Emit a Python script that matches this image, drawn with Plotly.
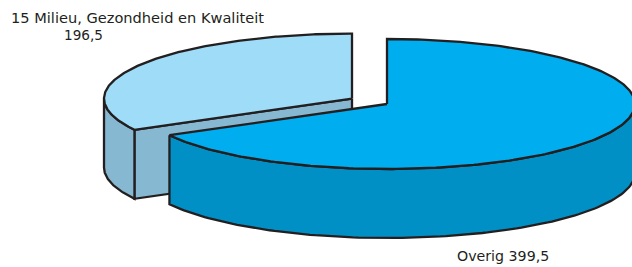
import numpy as np
import plotly.graph_objects as go

categories = ["15 Milieu, Gezondheid en Kwaliteit", "Overig"]
values = [196.5, 399.5]
value_labels = ["196,5", "399,5"]

W, H = 632, 267
CX, CY = 387, 104      # centre of the pie (pixels)
RX, RY = 248, 65       # ellipse radii
DEPTH = 69             # thickness
EXPLODE = [0.164, 0.0]  # explode fraction per slice
TOP_COL = ["#9edcf7", "#00adef"]
SIDE_COL = ["#86b8d2", "#0090c6"]
EDGE = "#231f20"

total = sum(values)
frac = [v / total for v in values]
# Overig starts at 12 o'clock and runs clockwise; the first slice fills the rest
ov_end = 90.0 - 360.0 * frac[1]
spans = {
    0: (90.0, ov_end + 360.0),
    1: (ov_end + 360.0, 450.0),
}


def pt(cx, cy, a, dz=0.0):
    r = np.radians(a)
    return cx + RX * np.cos(r), cy - RY * np.sin(r) + dz


fig = go.Figure()


def poly(xs, ys, fill):
    fig.add_trace(go.Scatter(x=list(xs) + [xs[0]], y=list(ys) + [ys[0]], mode="lines",
                             fill="toself", fillcolor=fill,
                             line=dict(color=EDGE, width=2.3), hoverinfo="skip",
                             showlegend=False))


def slice_center(i):
    a0, a1 = spans[i]
    mid = np.radians((a0 + a1) / 2)
    return CX + EXPLODE[i] * RX * np.cos(mid), CY - EXPLODE[i] * RY * np.sin(mid)


def draw_slice(i):
    a0, a1 = spans[i]
    cx, cy = slice_center(i)
    if i == 0:
        x1, y1 = pt(cx, cy, a1)
        poly([cx, x1, x1, cx], [cy, y1, y1 + DEPTH, cy + DEPTH], SIDE_COL[i])
    lo = max(a0, 180.0)
    hi = min(a1, 360.0)
    if hi > lo:
        ang = np.linspace(lo, hi, 120)
        xs, ys = pt(cx, cy, ang)
        xb, yb = xs[::-1], ys[::-1] + DEPTH
        poly(np.concatenate([xs, xb]), np.concatenate([ys, yb]), SIDE_COL[i])
    ang = np.linspace(a0, a1, 240)
    xs, ys = pt(cx, cy, ang)
    poly(np.concatenate([[cx], xs]), np.concatenate([[cy], ys]), TOP_COL[i])


draw_slice(0)
draw_slice(1)

FAM = "DejaVu Sans, Verdana, sans-serif"
fig.add_annotation(x=9, y=17, text=categories[0], showarrow=False, xanchor="left",
                   yanchor="middle", font=dict(size=14.6, color="#231f20", family=FAM))
fig.add_annotation(x=62, y=35, text=value_labels[0], showarrow=False, xanchor="left",
                   yanchor="middle", font=dict(size=13.6, color="#231f20", family=FAM))
fig.add_annotation(x=455, y=256, text=categories[1] + " " + value_labels[1], showarrow=False,
                   xanchor="left", yanchor="middle", font=dict(size=14.2, color="#231f20", family=FAM))

fig.update_layout(
    width=W, height=H, margin=dict(l=0, r=0, t=0, b=0),
    paper_bgcolor="white", plot_bgcolor="white",
    xaxis=dict(range=[0, W], visible=False, fixedrange=True),
    yaxis=dict(range=[H, 0], visible=False, fixedrange=True),
)
fig.write_html("out.html", config={"displayModeBar": False},
               post_script="document.body.style.margin='0';document.body.style.overflow='hidden';")
